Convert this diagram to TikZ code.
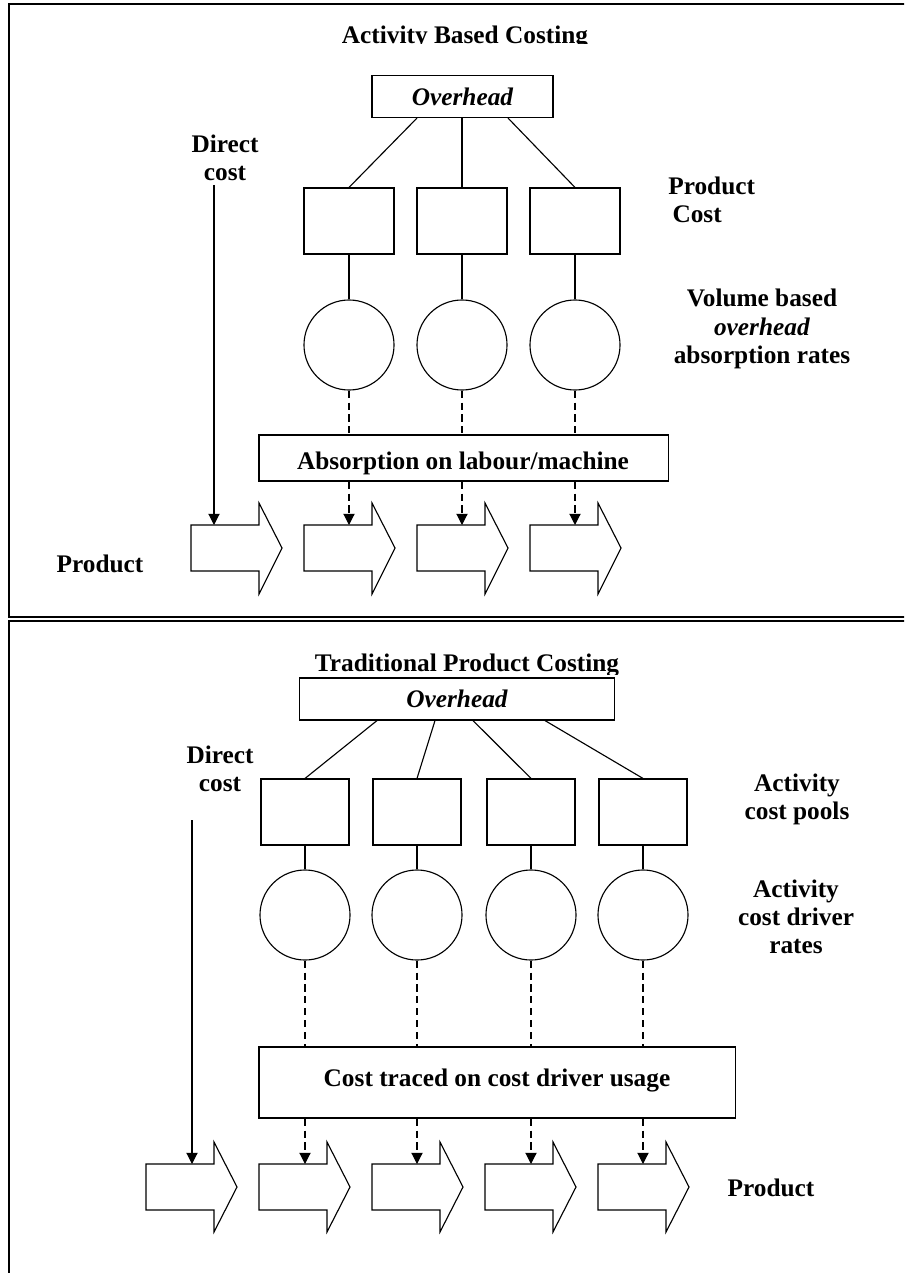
\documentclass[tikz,border=0pt]{standalone}
\usepackage{fontspec}
\setmainfont{Liberation Serif}
\usetikzlibrary{calc}
\usetikzlibrary{arrows.meta}

\newcommand{\labfont}{\fontsize{18}{20}\selectfont\bfseries}
\tikzset{
  lbl/.style={font=\labfont, align=center, inner sep=0},
  ovbox/.style={draw, line width=.8pt, minimum height=1.05cm, font=\labfont\itshape},
  poolbox/.style={draw, line width=.8pt, minimum height=1.65cm},
  ratecirc/.style={draw, circle, line width=.8pt, minimum size=2.25cm, inner sep=0},
  tracebox/.style={draw, line width=.8pt},
  feed/.style={line width=.8pt, -{Triangle[length=8pt,width=8pt]}},
  dashfeed/.style={feed, dash pattern=on 5pt off 3.5pt},
  frame/.style={line width=1.5pt}
}

\begin{document}
\begin{tikzpicture}[x=0.025cm, y=-0.025cm, line join=miter]
\useasboundingbox (0,0) rectangle (904,1273);
\clip (0,0) rectangle (904,1273);

% frames of the two panels
\draw[frame] (920,617) -- (9,617) -- (9,4) -- (920,4);
\draw[frame] (920,621) -- (9,621) -- (9,1290);

%%%%%%%%%%%%%%%% upper panel
\begin{scope}
\clip (0,0) rectangle (904,43.5);
\node[lbl, anchor=base] (abc) at (465,44) {Activity Based Costing};
\end{scope}
\node[ovbox, minimum width=4.525cm] (ovA) at (462.5,96.5) {Overhead};
\foreach \i/\x in {1/349,2/462,3/575} {
 \node[poolbox, minimum width=2.25cm] (poolA\i) at (\x,221) {};
 \node[ratecirc] (rateA\i) at (\x,345) {};
 \draw[line width=.8pt] (poolA\i) -- (rateA\i);
}
\draw[line width=.8pt] ($(ovA.south)+(-45.5,0)$) -- (poolA1.north);
\draw[line width=.8pt] (ovA.south -| poolA2) -- (poolA2.north);
\draw[line width=.8pt] ($(ovA.south)+(45.5,0)$) -- (poolA3.north);
\node[tracebox, minimum width=10.225cm, minimum height=1.15cm] (absorb) at (463.5,458) {};
\node[lbl, anchor=base] (absorbtxt) at (463,469) {Absorption on labour/machine};
\foreach \i in {1,2,3}
 \draw[line width=.8pt, dash pattern=on 5pt off 3.5pt] (rateA\i) -- (absorb.north -| rateA\i);
% product arrows
\foreach \i/\x in {1/191,2/304,3/417,4/530} {
 \draw[line width=.8pt] (\x,525) -- ++(68,0) -- ++(0,-22) -- ++(23,45) -- ++(-23,46) -- ++(0,-23) -- ++(-68,0) -- cycle;
 \coordinate (prodA\i) at (\x+23,525);
}
\coordinate (dirA) at (214,185);
\draw[feed] (dirA) -- (prodA1);
\foreach \i/\j in {1/2,2/3,3/4}
 \draw[dashfeed] (absorb.south -| rateA\i) -- (prodA\j -| rateA\i);
\node[lbl] (dcA) at (225,158) {Direct\\cost};
\node[lbl, align=left, anchor=west] (pcA) at (668,200) {Product\\\hspace{3pt}Cost};
\node[lbl] (vbA) at (762,329) {Volume based\\\textit{overhead}\\absorption rates};
\node[lbl] (prA) at (100,564) {Product};

%%%%%%%%%%%%%%%% lower panel
\begin{scope}
\clip (0,621) rectangle (904,674);
\node[lbl, anchor=base] (tpc) at (467,671) {Traditional Product Costing};
\end{scope}
\node[ovbox, minimum width=7.875cm] (ovB) at (457,699) {Overhead};
\foreach \i/\x in {1/305,2/417,3/531,4/643} {
 \node[poolbox, minimum width=2.2cm] (poolB\i) at (\x,812) {};
 \node[ratecirc] (rateB\i) at (\x,915) {};
 \draw[line width=.8pt] (poolB\i) -- (rateB\i);
}
\draw[line width=.8pt] ($(ovB.south)+(-80,0)$) -- (poolB1.north);
\draw[line width=.8pt] ($(ovB.south)+(-22,0)$) -- (poolB2.north);
\draw[line width=.8pt] ($(ovB.south)+(16,0)$) -- (poolB3.north);
\draw[line width=.8pt] ($(ovB.south)+(88,0)$) -- (poolB4.north);
\node[tracebox, minimum width=11.9cm, minimum height=1.775cm] (trace) at (497,1082.5) {};
\node[lbl, anchor=base] (tracetxt) at (497,1086) {Cost traced on cost driver usage};
\foreach \i in {1,2,3,4}
 \draw[line width=.8pt, dash pattern=on 5pt off 3.5pt] (rateB\i) -- (trace.north -| rateB\i);
\foreach \i/\x in {1/146,2/259,3/372,4/485,5/598} {
 \draw[line width=.8pt] (\x,1164) -- ++(68,0) -- ++(0,-22) -- ++(23,45) -- ++(-23,45) -- ++(0,-22) -- ++(-68,0) -- cycle;
 \coordinate (prodB\i) at (\x+46,1164);
}
\coordinate (dirB) at (192,820);
\draw[feed] (dirB) -- (prodB1);
\foreach \i/\j in {1/2,2/3,3/4,4/5}
 \draw[dashfeed] (trace.south -| rateB\i) -- (prodB\j -| rateB\i);
\node[lbl] (dcB) at (220,769) {Direct\\cost};
\node[lbl] (apB) at (797,799) {Activity\\cost pools};
\node[lbl] (drB) at (796,917) {Activity\\cost driver\\rates};
\node[lbl] (prB) at (771,1188) {Product};
\end{tikzpicture}
\end{document}
